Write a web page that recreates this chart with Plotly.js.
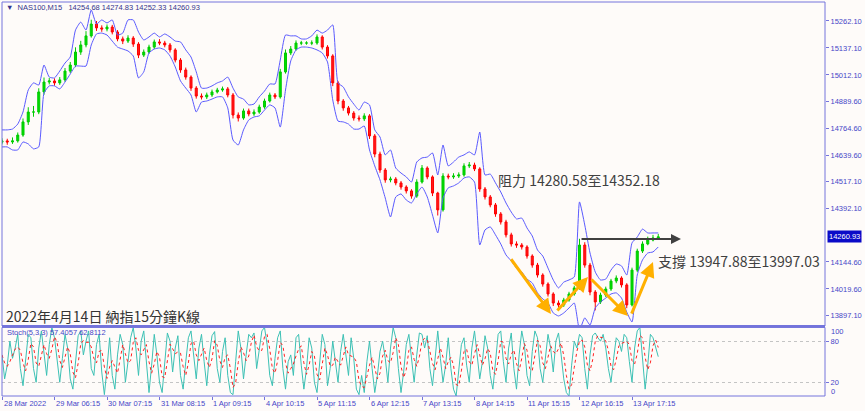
<!DOCTYPE html>
<html><head><meta charset="utf-8">
<script src="https://cdn.plot.ly/plotly-3.0.1.min.js"></script>
<style>html,body{margin:0;padding:0;background:#fefbf9;} #chart{width:865px;height:411px;}</style>
</head><body><div id="chart"></div>
<script>
// ---- data (15-minute NAS100 bars, resampled reading of the picture) ----
const timeTickPos = [0,10,20,30,40,50,60,70,80,90,100,110,120];
const timeTickLabels = ["28 Mar 2022","29 Mar 06:15","30 Mar 07:15","31 Mar 08:15","1 Apr 09:15","4 Apr 10:15","5 Apr 11:15","6 Apr 12:15","7 Apr 13:15","8 Apr 14:15","11 Apr 15:15","12 Apr 16:15","13 Apr 17:15"];
const priceTicks = [15262.10,15137.10,15012.10,14889.60,14764.60,14639.60,14517.10,14392.10,14144.60,14019.60,13897.10];

const opens = [14700,14706,14701,14706,14733,14794,14840,14840,14933,14979,
14984,14975,14989,15030,15058,15118,15151,15193,15248,15230,
15225,15234,15211,15179,15169,15183,15155,15104,15118,15141,
15165,15160,15151,15128,15081,15035,15002,14951,14914,14910,
14919,14933,14942,14947,14919,14826,14812,14845,14831,14840,
14863,14891,14919,14910,15026,15114,15132,15160,15160,15160,
15160,15188,15141,15100,14975,14891,14859,14835,14812,14808,
14822,14729,14645,14571,14525,14529,14511,14492,14474,14450,
14515,14580,14539,14464,14386,14543,14539,14543,14548,14590,
14594,14576,14483,14446,14409,14367,14330,14270,14228,14223,
14214,14172,14130,14084,14042,13996,13954,13945,13968,13996,
14024,14223,14130,14005,13959,13991,14019,14056,14070,14038,
13945,14107,14195,14228,14246,14254.68];
const highs = [14718,14716,14722,14745,14810,14862,14868,14950,15000,14998,
14996,15002,15044,15072,15140,15170,15215,15268,15262,15242,
15246,15244,15220,15190,15196,15192,15164,15130,15152,15176,
15178,15170,15160,15136,15090,15046,15010,14960,14926,14930,
14944,14952,14958,14956,14928,14838,14856,14856,14852,14874,
14902,14930,14928,15040,15130,15146,15172,15170,15168,15172,
15200,15196,15150,15108,14984,14900,14868,14844,14824,14834,
14830,14738,14656,14580,14540,14538,14520,14500,14482,14528,
14594,14588,14546,14470,14556,14554,14556,14560,14602,14608,
14605,14584,14492,14455,14418,14376,14340,14280,14240,14232,
14222,14180,14140,14092,14050,14004,13966,13978,14006,14034,
14252,14236,14140,14014,14002,14030,14066,14082,14078,14046,
14118,14206,14240,14262,14270,14274.83];
const lows = [14690,14688,14692,14698,14725,14780,14818,14830,14920,14968,
14962,14966,14980,15020,15048,15105,15140,15185,15216,15212,
15214,15200,15168,15155,15160,15142,15090,15095,15110,15132,
15150,15140,15116,15070,15022,14990,14938,14902,14898,14900,
14910,14926,14934,14908,14810,14796,14804,14820,14822,14832,
14855,14884,14900,14902,15018,15104,15124,15150,15152,15150,
15152,15130,15088,14960,14876,14846,14824,14800,14796,14798,
14715,14630,14558,14512,14514,14500,14480,14462,14438,14442,
14508,14528,14450,14360,14378,14528,14530,14534,14540,14580,
14566,14470,14434,14398,14354,14318,14258,14216,14210,14202,
14160,14118,14072,14030,13984,13940,13932,13936,13960,13988,
14016,14118,13990,13920,13950,13982,14010,14046,14026,13930,
13938,14098,14186,14222,14240,14252.33];
const closes = [14706,14701,14706,14733,14794,14840,14840,14933,14979,14984,
14975,14989,15030,15058,15118,15151,15193,15248,15230,15225,
15234,15211,15179,15169,15183,15155,15104,15118,15141,15165,
15160,15151,15128,15081,15035,15002,14951,14914,14910,14919,
14933,14942,14947,14919,14826,14812,14845,14831,14840,14863,
14891,14919,14910,15026,15114,15132,15160,15160,15160,15160,
15188,15141,15100,14975,14891,14859,14835,14812,14808,14822,
14729,14645,14571,14525,14529,14511,14492,14474,14450,14515,
14580,14539,14464,14386,14543,14539,14543,14548,14590,14594,
14576,14483,14446,14409,14367,14330,14270,14228,14223,14214,
14172,14130,14084,14042,13996,13954,13945,13968,13996,14024,
14223,14130,14005,13959,13991,14019,14056,14070,14038,13945,
14107,14195,14228,14246,14256,14260.93];
const upperBand = [14757,14757,14761,14784,14840,14942,14975,14965,15058,15002,
14998,15030,15067,15095,15220,15257,15220,15313,15248,15267,
15253,15267,15197,15206,15267,15267,15211,15174,15188,15206,
15188,15202,15188,15169,15165,15128,15095,15026,14951,14951,
14961,14975,14984,15002,14951,14910,14900,14873,14877,14910,
14937,14970,14970,15081,15197,15193,15193,15179,15179,15193,
15220,15206,15220,15244,14975,14956,14910,14877,14849,14886,
14873,14757,14724,14641,14664,14580,14557,14539,14515,14608,
14627,14631,14650,14548,14687,14590,14608,14631,14641,14655,
14641,14747,14548,14552,14511,14469,14418,14376,14344,14348,
14302,14265,14200,14172,14116,14061,14024,14051,14061,14075,
14423,14316,14186,14098,14061,14065,14107,14135,14126,14084,
14233,14260,14297,14279,14279,14279];
const lowerBand = [14678,14678,14664,14664,14701,14692,14669,14678,14928,14961,
14961,14947,14979,15016,15053,15053,15053,15151,15202,15206,
15197,15169,15141,15132,15123,15100,14998,15026,15114,15132,
15137,15128,15100,15049,14984,14951,14919,14840,14886,14891,
14900,14910,14910,14859,14710,14687,14757,14803,14817,14822,
14849,14873,14859,14770,14942,15077,15128,15141,15141,15137,
15128,15114,15072,14896,14798,14794,14784,14761,14761,14775,
14664,14590,14525,14441,14353,14446,14460,14432,14418,14460,
14492,14446,14362,14279,14441,14488,14497,14511,14534,14539,
14515,14223,14293,14307,14270,14228,14177,14149,14116,14098,
14065,14047,14001,13973,13954,13908,13894,13908,13931,13954,
13829,13885,13852,13931,13959,13977,13996,14001,13977,13912,
13866,14084,14154,14186,14191,14214];
const stochK = [60,25,45,80,55,70,90,40,15,55,
90,85,40,20,70,95,60,30,75,100,
85,50,20,55,90,70,25,10,45,88,
95,60,80,95,40,30,75,90,35,2,
40,85,30,10,60,90,75,20,50,85,
100,70,30,80,95,50,5,45,90,60,
20,5,55,92,80,35,70,88,30,10,
50,85,95,60,25,70,90,50,15,60,
88,94,40,20,65,85,30,5,2,50,
95,70,25,60,90,85,92,40,65,95,
100,75,30,15,55,85,95,40,10,50,
60,30,85,90,45,10,40,85,70,20,
5,45,90,75,15,40,80,50,20,65,
90,60,30,85,55,10,2,30,5,50,
80,40,5,30,65,80,55,20,70,100,
85,40,5,35,75,90,50,20,60,92,
90,70,88,40,15,60,95,55,20,45,
85,40,10,0,35,75,85,45,20,70,
95,60,25,50,88,70,30,10,55,90,
95,50,20,70,92,40,10,60,95,75,
30,15,65,95,85,40,20,60,90,70,
35,80,92,60,25,5,0,45,80,70,
90,85,40,10,60,88,92,85,80,90,
70,40,20,55,85,80,65,90,85,50,
20,70,95,100,60,10,45,90,85,70,
57.4057];

// ---- derived positions ----
const barIndex = closes.map((_, i) => i);
const stochIndex = stochK.map((_, j) => j * 0.5);
// %D = 3-period simple average of %K (definition of the Stochastic signal line)
const stochD = stochK.map((v, j) => j < 1 ? v : (stochK[j] + stochK[j-1] + (j > 1 ? stochK[j-2] : stochK[j-1])) / 3);

const XR = [0, 156.76];
const axisBlue = '#4646c8';
const frame = '#7474dc';
const smallFont = {family: 'Liberation Sans, Arial, sans-serif', size: 7.5, color: axisBlue};
const cjk = 'Noto Sans CJK TC, Noto Sans, sans-serif';

const traces = [
  {type: 'scatter', mode: 'lines', x: barIndex, y: upperBand, xaxis: 'x', yaxis: 'y',
   line: {color: '#5a5aff', width: 1, shape: 'spline', smoothing: 0.5}, hoverinfo: 'skip'},
  {type: 'scatter', mode: 'lines', x: barIndex, y: lowerBand, xaxis: 'x', yaxis: 'y',
   line: {color: '#5a5aff', width: 1, shape: 'spline', smoothing: 0.5}, hoverinfo: 'skip'},
  {type: 'candlestick', x: barIndex, open: opens, high: highs, low: lows, close: closes,
   xaxis: 'x', yaxis: 'y', whiskerwidth: 0,
   increasing: {line: {color: '#00cc00', width: 1}, fillcolor: '#00dd00'},
   decreasing: {line: {color: '#ff0000', width: 1}, fillcolor: '#ff1a1a'}},
  {type: 'scatter', mode: 'lines', x: stochIndex, y: stochK, xaxis: 'x2', yaxis: 'y2',
   line: {color: '#3cc0b4', width: 1}, hoverinfo: 'skip'},
  {type: 'scatter', mode: 'lines', x: stochIndex, y: stochD, xaxis: 'x2', yaxis: 'y2',
   line: {color: '#ff2020', width: 1, dash: 'dot'}, hoverinfo: 'skip'}
];

function arrow(x, y, ax, ay, color, w) {
  return {x: x, y: y, ax: ax, ay: ay, xref: 'x', yref: 'y', axref: 'x', ayref: 'y',
          text: '', showarrow: true, arrowhead: 2, arrowsize: 1, arrowwidth: w,
          arrowcolor: color, standoff: 0, startstandoff: 0};
}

const annotations = [
  arrow(104.57, 13903, 96.76, 14164, '#ffb000', 3),
  arrow(111.62, 14075, 105.52, 13912, '#ffb000', 3),
  arrow(119.24, 13894, 112.0, 14070, '#ffb000', 3),
  arrow(124.0, 14144, 119.81, 13898, '#ffb000', 3),
  arrow(129.33, 14251, 110.1, 14251, '#404040', 2),
  {xref: 'paper', yref: 'paper', x: 0.6002, y: 0.5482, xanchor: 'left', yanchor: 'middle',
   text: '阻力 14280.58至14352.18', showarrow: false, font: {family: cjk, size: 14, color: '#404040'}},
  {xref: 'paper', yref: 'paper', x: 0.7947, y: 0.3439, xanchor: 'left', yanchor: 'middle',
   text: '支撐 13947.88至13997.03', showarrow: false, font: {family: cjk, size: 14, color: '#404040'}},
  {xref: 'paper', yref: 'paper', x: 0.0024, y: 0.203, xanchor: 'left', yanchor: 'middle',
   text: '2022年4月14日 納指15分鐘K線', showarrow: false, font: {family: cjk, size: 14, color: '#333333'}},
  {xref: 'paper', yref: 'paper', x: 0.003, y: 0.9873, xanchor: 'left', yanchor: 'middle',
   text: '▼\u00a0\u00a0NAS100,M15\u00a0\u00a0\u00a014254.68\u00a014274.83\u00a014252.33\u00a014260.93',
   showarrow: false, font: {family: 'Liberation Sans, Arial, sans-serif', size: 7.5, color: '#34348c'}},
  {xref: 'paper', yref: 'paper', x: 0.004, y: 0.1624, xanchor: 'left', yanchor: 'middle',
   text: 'Stoch(5,3,3) 57.4057 62.8112', showarrow: false, font: smallFont},
  {xref: 'paper', yref: 'y', x: 1.0024, y: 14260.93, xanchor: 'left', yanchor: 'middle',
   text: '14260.93', showarrow: false, bgcolor: '#0a0ac8', borderpad: 1,
   font: {family: 'Liberation Sans, Arial, sans-serif', size: 7.5, color: '#ffffff'}},
  {xref: 'paper', yref: 'y2', x: 1.0049, y: 94, xanchor: 'left', yanchor: 'middle',
   text: '100', showarrow: false, font: smallFont},
  {xref: 'paper', yref: 'y2', x: 1.0049, y: 6, xanchor: 'left', yanchor: 'middle',
   text: '0', showarrow: false, font: smallFont}
];
// time-axis labels: left-aligned at their tick, as the terminal draws them
timeTickPos.forEach((p, k) => annotations.push({
  xref: 'x2', yref: 'paper', x: p, y: -0.0178, xanchor: 'left', yanchor: 'middle',
  xshift: k === 0 ? 0 : -1, text: timeTickLabels[k], showarrow: false, font: smallFont
}));

const layout = {
  width: 865, height: 411,
  margin: {l: 2, r: 40, t: 2, b: 15, pad: 0},
  paper_bgcolor: '#fefbf9', plot_bgcolor: '#fefbf9',
  showlegend: false,
  boxgap: 0.45,
  xaxis: {domain: [0, 1], anchor: 'y', range: XR, showticklabels: false, ticks: '',
          showgrid: false, zeroline: false, showline: false, rangeslider: {visible: false}},
  yaxis: {domain: [0.1777, 1], anchor: 'x', range: [13847.5, 15350.2], side: 'right',
          tickvals: priceTicks, ticktext: priceTicks.map(v => v.toFixed(2)),
          ticks: 'outside', ticklen: 3, tickcolor: frame, tickfont: smallFont,
          showgrid: false, zeroline: false, showline: false},
  xaxis2: {domain: [0, 1], anchor: 'y2', range: XR, tickvals: timeTickPos,
           showticklabels: false, ticks: 'outside', ticklen: 3, tickcolor: frame,
           showgrid: false, zeroline: false, showline: false},
  yaxis2: {domain: [0, 0.1739], anchor: 'x2', range: [0, 100], side: 'right',
           tickvals: [20, 80], ticktext: ['20', '80'], ticks: 'outside', ticklen: 3, tickcolor: frame,
           tickfont: smallFont, showgrid: true, gridcolor: '#c4c4c4', griddash: 'dot', gridwidth: 1,
           zeroline: false, showline: false},
  shapes: [
    {type: 'rect', xref: 'paper', yref: 'paper', x0: 0, x1: 1, y0: 0.1777, y1: 1, line: {color: frame, width: 1}},
    {type: 'line', xref: 'paper', yref: 'paper', x0: 0, x1: 1, y0: 0.1777, y1: 0.1777, line: {color: frame, width: 2}},
    {type: 'rect', xref: 'paper', yref: 'paper', x0: 0, x1: 1, y0: 0, y1: 0.1739, line: {color: frame, width: 1}}
  ],
  annotations: annotations
};

Plotly.newPlot('chart', traces, layout, {displayModeBar: false, staticPlot: true});
</script>
</body></html>
